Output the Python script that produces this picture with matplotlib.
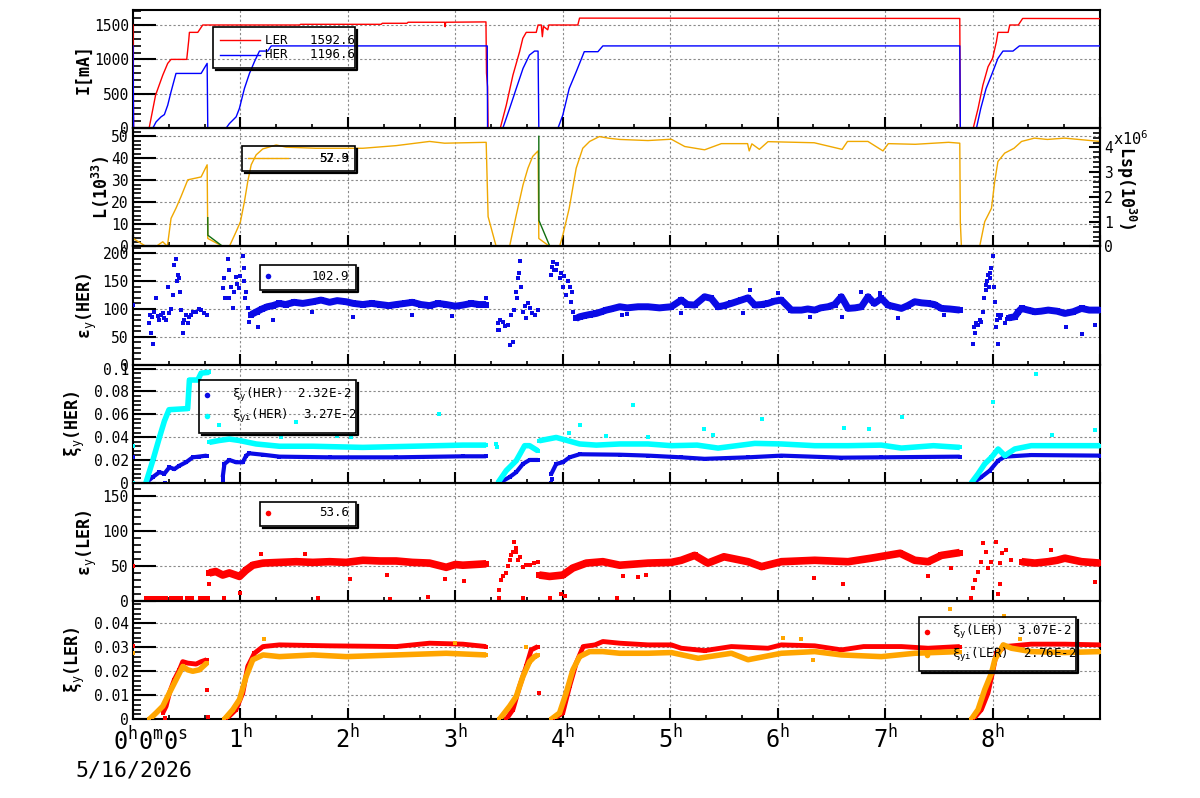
"""Beam current, luminosity and beam-beam parameter trends (6 stacked panels)"""
import matplotlib
matplotlib.use('Agg')
import matplotlib.pyplot as plt
from matplotlib.lines import Line2D
from matplotlib.patches import Rectangle
from matplotlib.ticker import MultipleLocator, FuncFormatter

plt.rcParams['font.family'] = ['DejaVu Sans Mono', 'DejaVu Sans']
plt.rcParams['mathtext.fontset'] = 'custom'
plt.rcParams['mathtext.rm'] = 'DejaVu Sans Mono'
plt.rcParams['mathtext.it'] = 'DejaVu Sans Mono'
plt.rcParams['mathtext.bf'] = 'DejaVu Sans Mono:bold'

# ---------------------------------------------------------------- data
# time in hours, value in panel units

# beam currents [mA]
ler_current = [(0.0, 1500), (0.005, 0), (0.15, 0), (0.21, 480), (0.277, 771), (0.323, 942),
               (0.354, 1000), (0.50, 1000), (0.519, 1281), (0.525, 1393), (0.603, 1393),
               (0.649, 1500), (1.55, 1500), (1.56, 1510), (2.31, 1510), (2.32, 1525),
               (2.55, 1525), (2.56, 1540), (2.90, 1540), (2.905, 1475), (2.91, 1540),
               (3.285, 1545), (3.29, 800), (3.30, 600), (3.305, 0), (3.418, 0), (3.474, 334),
               (3.536, 771), (3.598, 1112), (3.628, 1306), (3.66, 1393), (3.753, 1393),
               (3.77, 1500), (3.80, 1500), (3.81, 1330), (3.82, 1480), (3.86, 1430),
               (3.87, 1500), (4.14, 1500), (4.156, 1600), (7.695, 1595), (7.70, 0), (7.82, 0),
               (7.865, 286), (7.91, 626), (7.958, 893), (8.0, 1015), (8.036, 1258),
               (8.05, 1393), (8.145, 1393), (8.16, 1500), (8.24, 1500), (8.28, 1595), (9.0, 1593)]
her_current = [(0.0, 1196), (0.005, 0), (0.184, 0), (0.215, 92), (0.261, 165), (0.292, 198),
               (0.323, 334), (0.354, 529), (0.40, 796), (0.634, 796), (0.69, 942), (0.696, 0),
               (0.866, 0), (0.897, 67), (0.96, 165), (0.99, 286), (1.037, 577), (1.084, 796),
               (1.13, 966), (1.177, 1121), (1.254, 1121), (1.286, 1196), (3.297, 1196),
               (3.30, 0), (3.442, 0), (3.505, 286), (3.567, 577), (3.63, 869), (3.69, 1063),
               (3.737, 1121), (3.77, 1121), (3.777, 0), (3.955, 0), (4.0, 189), (4.06, 577),
               (4.125, 820), (4.20, 1112), (4.327, 1112), (4.373, 1196), (7.695, 1196),
               (7.70, 0), (7.85, 0), (7.89, 286), (7.94, 577), (7.99, 771), (8.05, 1015),
               (8.097, 1121), (8.19, 1121), (8.25, 1196), (9.0, 1196)]

# luminosity [1e33]
lumi = [(0.0, 45.3), (0.002, 3.6), (0.12, 0), (0.215, 0), (0.277, 2.1), (0.32, 0),
        (0.354, 12.7), (0.40, 17.3), (0.447, 22.6), (0.51, 30.2), (0.587, 31.0), (0.634, 31.5),
        (0.69, 37.0), (0.696, 3.6), (0.835, 0), (0.897, 0), (0.96, 6.7), (1.0, 11.2),
        (1.037, 20.3), (1.068, 29.4), (1.10, 37.0), (1.146, 41.5), (1.208, 44.2), (1.333, 46.0),
        (1.425, 45.0), (1.70, 44.5), (2.14, 44.5), (2.45, 45.7), (2.76, 47.6), (2.90, 46.8),
        (3.287, 47.2), (3.305, 13.5), (3.38, 0), (3.505, 0), (3.567, 14.2), (3.63, 27.9),
        (3.676, 35.5), (3.72, 40.8), (3.77, 43.3), (3.777, 3.6), (3.877, 0), (3.97, 0),
        (4.0, 5.0), (4.06, 17.3), (4.125, 35.5), (4.186, 44.5), (4.25, 47.6), (4.34, 49.8),
        (4.436, 49.0), (4.53, 48.5), (4.793, 48.0), (5.01, 48.6), (5.135, 45.3), (5.32, 43.8),
        (5.476, 46.6), (5.72, 46.6), (5.735, 43.3), (5.76, 46.5), (5.83, 44.0), (5.91, 47.5),
        (6.34, 47.0), (6.60, 44.0), (6.65, 47.6), (6.84, 47.6), (6.98, 43.3), (7.03, 46.6),
        (7.28, 46.3), (7.59, 47.2), (7.695, 46.8), (7.70, 11.2), (7.71, 0), (7.88, 0),
        (7.927, 11.2), (7.99, 17.3), (8.02, 29.4), (8.05, 38.5), (8.113, 42.3), (8.20, 44.5),
        (8.27, 47.6), (8.39, 49.1), (8.51, 48.5), (8.67, 49.1), (9.0, 47.6)]

# specific luminosity [x1e6, 1e30 units], only visible pieces
lsp = [[(0.696, 1.16), (0.697, 0.45), (0.835, 0.0)],
       [(3.777, 4.45), (3.778, 1.05), (3.88, 0.0)]]

# vertical emittance HER
eyh_scatter = [(0.0, 107), (0.153, 75), (0.16, 90), (0.168, 57), (0.175, 85), (0.19, 37),
               (0.20, 95), (0.215, 119), (0.23, 88), (0.245, 80), (0.261, 89), (0.277, 92),
               (0.29, 84), (0.308, 80), (0.323, 140), (0.339, 92), (0.35, 100), (0.37, 125),
               (0.385, 179), (0.40, 190), (0.41, 150), (0.417, 161), (0.432, 155), (0.44, 130),
               (0.448, 98), (0.463, 56), (0.47, 75), (0.479, 80), (0.49, 90), (0.509, 74),
               (0.52, 85), (0.541, 89), (0.56, 95), (0.587, 95), (0.61, 100), (0.634, 98),
               (0.66, 92), (0.686, 89),
               (0.835, 137), (0.851, 155), (0.86, 120), (0.882, 190), (0.89, 170), (0.897, 119),
               (0.91, 140), (0.929, 101), (0.94, 130), (0.959, 157), (0.97, 145), (0.991, 137),
               (1.0, 160), (1.022, 196), (1.03, 150), (1.037, 173), (1.045, 120), (1.053, 131),
               (1.068, 101), (1.084, 77),
               (1.161, 68), (1.30, 80), (1.67, 95), (2.05, 85), (2.60, 90), (2.97, 88), (3.287, 120),
               (3.396, 62), (3.40, 75), (3.411, 62), (3.42, 80), (3.442, 77), (3.46, 70),
               (3.489, 72), (3.505, 35), (3.52, 89), (3.536, 40), (3.545, 98), (3.56, 131),
               (3.57, 120), (3.582, 155), (3.59, 165), (3.604, 187), (3.61, 140), (3.629, 95),
               (3.645, 105), (3.66, 83), (3.675, 110), (3.691, 101), (3.71, 92), (3.737, 89),
               (3.768, 98),
               (3.893, 161), (3.90, 175), (3.908, 184), (3.92, 170), (3.939, 170), (3.95, 180),
               (3.97, 155), (3.985, 165), (4.001, 140), (4.015, 160), (4.032, 125), (4.05, 150),
               (4.063, 140), (4.079, 113), (4.09, 130), (4.094, 95), (4.11, 83),
               (4.55, 90), (4.60, 91), (5.10, 92), (5.68, 92), (5.74, 135), (6.0, 128),
               (6.30, 85), (6.60, 86), (6.78, 130), (6.95, 128), (7.12, 84), (7.55, 90),
               (7.819, 37), (7.825, 68), (7.834, 56), (7.845, 75), (7.865, 71), (7.88, 80),
               (7.896, 77), (7.912, 95), (7.92, 119), (7.935, 135), (7.943, 143), (7.95, 150),
               (7.958, 161), (7.965, 140), (7.974, 155), (7.98, 165), (7.99, 173), (8.005, 196),
               (8.01, 140), (8.021, 112), (8.036, 68), (8.045, 80), (8.052, 89), (8.067, 84),
               (8.08, 90), (8.114, 74), (8.13, 82),
               (8.05, 37), (8.68, 68), (8.83, 55), (8.95, 72)]
eyh_band = [[(1.10, 90), (1.15, 95), (1.20, 100), (1.25, 104), (1.30, 106), (1.363, 110),
             (1.42, 108), (1.50, 112), (1.58, 110), (1.674, 113), (1.75, 116), (1.83, 112),
             (1.90, 115), (1.984, 113), (2.05, 110), (2.139, 108), (2.22, 110), (2.30, 108),
             (2.38, 106), (2.45, 108), (2.53, 110), (2.60, 112), (2.68, 108), (2.76, 106),
             (2.84, 110), (2.915, 108), (3.0, 105), (3.07, 107), (3.15, 110), (3.22, 108),
             (3.287, 108)],
            [(4.125, 83), (4.157, 86), (4.20, 88), (4.25, 90), (4.312, 92), (4.36, 95),
             (4.405, 98), (4.45, 100), (4.53, 104), (4.60, 102), (4.70, 104), (4.793, 104),
             (4.90, 102), (5.01, 104), (5.103, 116), (5.16, 108), (5.227, 107), (5.32, 122),
             (5.382, 119), (5.445, 104), (5.50, 106), (5.569, 110), (5.662, 116), (5.724, 120),
             (5.787, 107), (5.85, 108), (5.91, 110), (5.97, 114), (6.035, 116), (6.128, 98),
             (6.221, 98), (6.28, 100), (6.345, 98), (6.40, 102), (6.469, 104), (6.53, 108),
             (6.593, 122), (6.655, 101), (6.72, 102), (6.779, 104), (6.841, 122), (6.90, 110),
             (6.965, 119), (7.027, 107), (7.09, 104), (7.152, 101), (7.21, 106), (7.276, 113),
             (7.34, 111), (7.40, 110), (7.46, 108), (7.524, 101), (7.60, 100), (7.695, 98)],
            [(8.15, 84), (8.207, 86), (8.24, 95), (8.27, 101), (8.33, 98), (8.393, 95),
             (8.45, 96), (8.518, 98), (8.60, 96), (8.673, 92), (8.75, 95), (8.828, 101),
             (8.90, 98), (9.0, 98)]]

# beam-beam parameter HER
xiy_her = [[(0.12, 0), (0.184, 0.005), (0.246, 0.0093), (0.292, 0.008), (0.339, 0.0136),
            (0.385, 0.012), (0.432, 0.015), (0.494, 0.018), (0.556, 0.0223), (0.618, 0.023),
            (0.686, 0.0238)],
           [(0.835, 0.005), (0.851, 0.0165), (0.897, 0.020), (0.959, 0.018), (1.022, 0.018),
            (1.053, 0.0238), (1.084, 0.0258), (1.21, 0.0246), (1.363, 0.0229), (1.83, 0.0223),
            (2.45, 0.0223), (3.07, 0.0232), (3.287, 0.0232)],
           [(3.411, 0), (3.505, 0.005), (3.567, 0.0093), (3.629, 0.0165), (3.691, 0.020),
            (3.768, 0.020)],
           [(3.893, 0.0078), (3.939, 0.0165), (4.0, 0.018), (4.063, 0.0223), (4.157, 0.025),
            (4.53, 0.0246), (4.793, 0.0238), (5.103, 0.0223), (5.32, 0.021), (5.724, 0.0223),
            (6.035, 0.0238), (6.593, 0.0220), (6.965, 0.0223), (7.695, 0.0229)],
           [(7.819, 0), (7.896, 0.005), (7.974, 0.0107), (8.052, 0.0194), (8.114, 0.0229),
            (8.36, 0.0243), (9.0, 0.0238)]]
xiy_her_scatter = [(0.0, 0.0223), (0.30, 0.0), (0.835, 0.0), (0.84, 0.003), (3.893, 0.0),
                   (3.90, 0.003)]
xiyi_her = [[(0.12, 0), (0.184, 0.0194), (0.246, 0.0397), (0.292, 0.054), (0.335, 0.064),
             (0.509, 0.065), (0.525, 0.090), (0.603, 0.090), (0.634, 0.096), (0.71, 0.0968)],
            [(0.71, 0.0354), (0.80, 0.037), (0.897, 0.0383), (0.991, 0.037), (1.146, 0.034),
             (1.363, 0.032), (1.674, 0.032), (2.139, 0.031), (2.60, 0.032), (3.07, 0.033),
             (3.287, 0.033)],
            [(3.396, 0), (3.474, 0.0107), (3.567, 0.0194), (3.645, 0.0325), (3.691, 0.0325),
             (3.768, 0.028)],
            [(3.78, 0.0368), (3.939, 0.0397), (4.157, 0.034), (4.312, 0.033), (4.53, 0.034),
             (4.793, 0.034), (5.01, 0.0325), (5.25, 0.033), (5.445, 0.0304), (5.787, 0.0345),
             (6.035, 0.034), (6.345, 0.0325), (6.655, 0.0325), (6.965, 0.033), (7.152, 0.0304),
             (7.45, 0.0325), (7.695, 0.031)],
            [(7.803, 0), (7.865, 0.0078), (7.927, 0.0165), (7.99, 0.0223), (8.052, 0.0296),
             (8.114, 0.0238), (8.207, 0.0296), (8.36, 0.0325), (8.673, 0.0325), (9.0, 0.0325)]]
xiyi_her_scatter = [(0.0, 0.0325), (0.0, 0.0), (0.80, 0.051), (1.52, 0.053), (1.90, 0.041),
                    (2.03, 0.040), (2.85, 0.060), (1.38, 0.040), (3.38, 0.034), (3.385, 0.031),
                    (4.06, 0.044), (4.16, 0.051), (4.40, 0.041), (4.65, 0.068), (4.79, 0.040),
                    (5.31, 0.0475), (5.40, 0.042), (5.85, 0.056), (6.62, 0.048), (6.85, 0.0475),
                    (7.16, 0.058), (8.005, 0.071), (8.40, 0.0954), (8.55, 0.042), (8.95, 0.046)]

# vertical emittance LER
eyl_scatter = [(0.12, 4), (0.15, 4), (0.17, 4), (0.19, 4), (0.21, 4), (0.23, 4), (0.25, 4),
               (0.29, 4), (0.31, 4), (0.35, 4), (0.37, 4), (0.40, 4), (0.43, 4), (0.45, 4),
               (0.50, 4), (0.52, 4), (0.55, 4), (0.62, 4), (0.64, 4), (0.66, 4), (0.68, 4),
               (0.70, 4),
               (0.0, 50), (0.71, 24), (0.85, 4), (1.0, 12), (1.19, 67), (1.60, 67), (1.72, 4),
               (2.02, 31), (2.36, 37), (2.39, 3), (2.75, 6), (2.90, 31), (3.08, 28),
               (3.411, 16), (3.425, 30), (3.442, 35), (3.474, 40), (3.49, 50), (3.505, 58),
               (3.52, 65), (3.536, 70), (3.55, 84), (3.56, 70), (3.567, 75), (3.582, 58),
               (3.598, 62), (3.629, 49), (3.66, 52), (3.691, 51), (3.73, 54), (3.768, 56),
               (3.411, 4), (3.629, 4),
               (3.88, 4), (3.98, 10), (4.02, 7), (4.50, 4), (4.56, 36), (4.70, 34), (4.77, 37),
               (6.34, 33), (6.61, 24), (7.40, 36), (7.61, 47),
               (7.803, 4), (7.819, 19), (7.84, 30), (7.865, 42), (7.896, 56), (7.912, 82),
               (7.935, 70), (7.958, 47), (7.99, 56), (8.036, 84), (8.067, 54), (8.09, 68),
               (8.128, 72), (8.176, 58),
               (8.05, 10), (8.07, 24), (8.54, 73), (8.95, 27)]
eyl_band = [[(0.71, 40), (0.77, 42), (0.835, 37), (0.897, 40), (0.991, 35), (1.053, 44),
             (1.115, 51), (1.21, 54), (1.363, 55), (1.52, 56), (1.674, 55), (1.83, 56),
             (1.984, 55), (2.14, 58), (2.30, 57), (2.45, 57), (2.60, 55), (2.76, 54),
             (2.915, 48), (3.0, 52), (3.07, 51), (3.18, 52), (3.287, 53)],
            [(3.78, 37), (3.83, 36), (3.877, 35), (3.94, 36), (4.0, 37), (4.094, 47),
             (4.219, 54), (4.373, 56), (4.53, 51), (4.793, 54), (5.01, 55), (5.103, 58),
             (5.227, 65), (5.35, 54), (5.50, 63), (5.724, 56), (5.85, 49), (6.035, 56),
             (6.345, 58), (6.655, 56), (6.87, 61), (7.14, 68), (7.276, 58), (7.40, 56),
             (7.524, 65), (7.695, 69)],
            [(8.27, 56), (8.393, 54), (8.518, 56), (8.60, 58), (8.673, 61), (8.828, 56),
             (9.0, 54)]]

# beam-beam parameter LER
xiy_ler = [[(0.277, 0.0026), (0.308, 0.0054), (0.339, 0.011), (0.385, 0.0165), (0.432, 0.0206),
            (0.463, 0.024), (0.509, 0.0234), (0.587, 0.023), (0.634, 0.024), (0.686, 0.0248)],
           [(0.866, 0), (0.959, 0.004), (1.022, 0.011), (1.068, 0.022), (1.13, 0.0275),
            (1.21, 0.0303), (1.363, 0.031), (1.83, 0.0306), (2.45, 0.0303), (2.76, 0.0317),
            (3.07, 0.0313), (3.287, 0.0303)],
           [(3.474, 0), (3.536, 0.004), (3.598, 0.0137), (3.66, 0.022), (3.706, 0.0289),
            (3.768, 0.0303)],
           [(3.908, 0), (4.0, 0.0026), (4.063, 0.0137), (4.125, 0.0234), (4.19, 0.0303),
            (4.30, 0.031), (4.373, 0.0324), (4.53, 0.0317), (4.793, 0.031), (5.01, 0.031),
            (5.103, 0.0296), (5.32, 0.0286), (5.569, 0.0303), (5.91, 0.0296), (6.035, 0.031),
            (6.345, 0.0306), (6.593, 0.0289), (6.80, 0.0303), (7.152, 0.0303), (7.40, 0.0296),
            (7.695, 0.0303)],
           [(7.819, 0), (7.896, 0.004), (7.958, 0.011), (8.005, 0.0206), (8.036, 0.0275),
            (8.114, 0.0303), (8.36, 0.0313), (8.673, 0.0313), (9.0, 0.031)]]
xiy_ler_scatter = [(0.0, 0.0307), (0.69, 0.0123), (0.695, 0.001), (0.30, 0.0005), (3.78, 0.011)]
xiyi_ler = [[(0.153, 0), (0.215, 0.0026), (0.277, 0.0054), (0.339, 0.011), (0.401, 0.0165),
             (0.463, 0.022), (0.509, 0.0206), (0.556, 0.020), (0.618, 0.0206), (0.686, 0.0234)],
            [(0.851, 0), (0.929, 0.004), (0.991, 0.0082), (1.053, 0.0178), (1.115, 0.0248),
             (1.21, 0.0268), (1.363, 0.0261), (1.674, 0.0268), (1.984, 0.0261), (2.45, 0.0268),
             (2.915, 0.0275), (3.287, 0.0268)],
            [(3.411, 0), (3.505, 0.0054), (3.567, 0.0095), (3.629, 0.0178), (3.691, 0.024),
             (3.737, 0.0261), (3.768, 0.0268)],
            [(3.893, 0), (3.97, 0.0026), (4.032, 0.011), (4.094, 0.0206), (4.157, 0.0261),
             (4.25, 0.0282), (4.373, 0.0282), (4.53, 0.0275), (4.793, 0.0275), (5.01, 0.0278),
             (5.26, 0.0254), (5.569, 0.0275), (5.724, 0.0248), (6.035, 0.0275), (6.345, 0.0282),
             (6.593, 0.0268), (6.965, 0.0261), (7.276, 0.0275), (7.695, 0.0282)],
            [(7.803, 0), (7.865, 0.004), (7.927, 0.0123), (7.99, 0.0192), (8.021, 0.0248),
             (8.10, 0.031), (8.176, 0.0296), (8.36, 0.0282), (8.673, 0.0278), (9.0, 0.0282)]]
xiyi_ler_scatter = [(0.0, 0.0275), (1.22, 0.0333), (3.0, 0.0319), (3.66, 0.0303), (6.05, 0.0337),
                    (6.22, 0.0333), (6.33, 0.0248), (7.60, 0.0459), (8.11, 0.043), (8.26, 0.0334)]

hour_labels = ['', '1$^h$', '2$^h$', '3$^h$', '4$^h$', '5$^h$', '6$^h$', '7$^h$', '8$^h$']

# ---------------------------------------------------------------- helpers
W, H = 1200, 798
fig = plt.figure(figsize=(W / 100, H / 100), dpi=100)


def fx(x):
    return x / W


def fy(y):
    return 1 - y / H


def unzip(points):
    t, v = zip(*points)
    return list(t), list(v)


def make_panel(top, ymax, major, minor):
    """one stacked pad, ROOT-like frame and ticks"""
    ax = fig.add_axes([fx(133), fy(top + 118.2), 967 / W, 118.2 / H])
    ax.set_xlim(0, 9)
    ax.set_ylim(0, ymax)
    ax.xaxis.set_major_locator(MultipleLocator(1))
    ax.xaxis.set_minor_locator(MultipleLocator(1 / 3))
    ax.yaxis.set_major_locator(MultipleLocator(major))
    ax.yaxis.set_minor_locator(MultipleLocator(minor))
    ax.yaxis.set_major_formatter(FuncFormatter(lambda v, p: f'{v:g}'))
    ax.tick_params(axis='y', which='major', direction='in', length=16.5, width=1.5,
                   labelsize=10.5, pad=3, right=False)
    ax.tick_params(axis='y', which='minor', direction='in', length=5.8, width=1.2, right=False)
    ax.tick_params(axis='x', which='major', direction='in', length=8, width=1.5,
                   top=False, labelbottom=False)
    ax.tick_params(axis='x', which='minor', direction='in', length=3, width=1.2, top=False)
    ax.grid(True, which='major', color='#8a8a8a', ls=(0, (2, 2)), lw=0.8)
    ax.set_axisbelow(True)
    for s in ax.spines.values():
        s.set_linewidth(1.5)
    ax.patch.set_alpha(0)
    return ax


def draw_line(ax, points, color, lw=1.0):
    t, v = unzip(points)
    ax.plot(t, v, color=color, lw=lw, zorder=3)


def draw_band(ax, segments, color, lw, ms):
    for seg in segments:
        t, v = unzip(seg)
        ax.plot(t, v, color=color, lw=lw, marker='s', ms=ms, mew=0, zorder=3,
                solid_capstyle='butt')


def draw_dots(ax, points, color, ms):
    t, v = unzip(points)
    ax.plot(t, v, ls='none', marker='s', ms=ms, mew=0, color=color, zorder=3)


def legend_box(x0, y0, x1, y1):
    """transparent TLegend with a black drop shadow"""
    fig.add_artist(Rectangle((fx(x0), fy(y1)), fx(x1 - x0), (y1 - y0) / H, fill=False,
                             ec='black', lw=1.2, transform=fig.transFigure, zorder=10))
    fig.add_artist(Line2D([fx(x0 + 3), fx(x1 + 2), fx(x1 + 2)], [fy(y1 + 1.5), fy(y1 + 1.5), fy(y0 + 3)],
                          color='black', lw=1.6, transform=fig.transFigure, zorder=10))


def legend_line(x, y, color):
    fig.add_artist(Line2D([fx(x), fx(x + 40)], [fy(y), fy(y)], color=color, lw=1.0,
                          transform=fig.transFigure, zorder=10))


def legend_dot(x, y, color):
    fig.add_artist(Line2D([fx(x)], [fy(y)], ls='none', marker='o', ms=4, mew=0, color=color,
                          transform=fig.transFigure, zorder=10))


def legend_text(x, y, s, ha='left'):
    fig.text(fx(x), fy(y), s, ha=ha, va='center', fontsize=9, zorder=11)


def ylabel(x, y, s, rot=90):
    fig.text(fx(x), fy(y), s, rotation=rot, ha='center', va='center', fontsize=12,
             fontweight='bold')


# ---------------------------------------------------------------- panels
tops = [10, 128.2, 246.4, 364.6, 482.8, 601]

# 1: currents
ax1 = make_panel(tops[0], 1718, 500, 100)
draw_line(ax1, ler_current, '#ff0000')
draw_line(ax1, her_current, '#0000ff')
ylabel(84, 69, 'I[mA]')
legend_box(213, 27, 355, 68)
legend_line(220, 40, '#ff0000')
legend_text(265, 40, 'LER   1592.6')
legend_line(220, 55, '#0000ff')
legend_text(265, 55, 'HER   1196.6')

# 2: luminosity + specific luminosity on right axis
ax2 = make_panel(tops[1], 53.6, 10, 2)
draw_line(ax2, lumi, '#f0a800')
ax2r = ax2.twinx()
ax2r.set_ylim(0, 4.78)
ax2r.yaxis.set_major_locator(MultipleLocator(1))
ax2r.yaxis.set_minor_locator(MultipleLocator(0.2))
ax2r.yaxis.set_major_formatter(FuncFormatter(lambda v, p: f'{v:g}'))
ax2r.tick_params(axis='y', which='major', direction='in', length=8, width=1.5, labelsize=10.5, pad=3)
ax2r.tick_params(axis='y', which='minor', direction='in', length=5, width=1.2)
for s in ax2r.spines.values():
    s.set_linewidth(1.5)
for seg in lsp:
    draw_line(ax2r, seg, '#0f6e0f')
ylabel(101, 187, 'L(10$^{\\mathbf{33}}$)')
ylabel(1126, 188, 'Lsp(10$^{\\mathbf{30}}$)', rot=270)
fig.text(fx(1113), fy(145), 'x10$^6$', ha='left', va='baseline', fontsize=11)
legend_box(242, 146, 355, 171)
legend_line(248, 158, '#f0a800')
legend_text(349, 158, '57.9', ha='right')
legend_text(349, 158, '52.3', ha='right')

# 3: emittance HER
ax3 = make_panel(tops[2], 212.5, 50, 10)
draw_band(ax3, eyh_band, '#0a0ae6', 5.0, 4.5)
draw_dots(ax3, eyh_scatter, '#0a0ae6', 3.5)
ylabel(87, 306, 'ε$_y$(HER)')
legend_box(260, 265, 356, 290)
legend_dot(268, 276, '#0a0ae6')
legend_text(349, 276, '102.9', ha='right')

# 4: beam-beam HER
ax4 = make_panel(tops[3], 0.1035, 0.02, 0.004)
draw_band(ax4, xiy_her, '#0a0ae6', 3.0, 3.2)
draw_dots(ax4, xiy_her_scatter, '#0a0ae6', 3)
draw_band(ax4, xiyi_her, '#00ffff', 4.0, 3.5)
draw_dots(ax4, xiyi_her_scatter, '#00ffff', 3)
ylabel(75, 424, 'ξ$_y$(HER)')
legend_box(199, 380, 356, 433)
legend_dot(207, 395, '#0a0ae6')
legend_text(232, 395, 'ξ$_y$(HER)  2.32E-2')
legend_dot(207, 416, '#00ffff')
legend_text(232, 416, 'ξ$_{yi}$(HER)  3.27E-2')

# 5: emittance LER
ax5 = make_panel(tops[4], 168.4, 50, 10)
draw_band(ax5, eyl_band, '#ff0000', 5.5, 4.5)
draw_dots(ax5, eyl_scatter, '#ff0000', 3.5)
ylabel(87, 543, 'ε$_y$(LER)')
legend_box(260, 502, 356, 526)
legend_dot(268, 513, '#ff0000')
legend_text(349, 513, '53.6', ha='right')

# 6: beam-beam LER, with the time axis
ax6 = make_panel(tops[5], 0.0493, 0.01, 0.002)
draw_band(ax6, xiy_ler, '#ff0000', 3.5, 3.5)
draw_dots(ax6, xiy_ler_scatter, '#ff0000', 3)
draw_band(ax6, xiyi_ler, '#ffa500', 4.0, 3.5)
draw_dots(ax6, xiyi_ler_scatter, '#ffa500', 3)
ylabel(75, 660, 'ξ$_y$(LER)')
legend_box(919, 617, 1076, 671)
legend_dot(927, 632, '#ff0000')
legend_text(952, 632, 'ξ$_y$(LER)  3.07E-2')
legend_dot(927, 655, '#ffa500')
legend_text(952, 655, 'ξ$_{yi}$(LER)  2.76E-2')

ax6.tick_params(axis='x', which='major', labelbottom=True, labelsize=17, pad=4)
ax6.set_xticks(range(len(hour_labels)))
ax6.set_xticklabels(hour_labels)
fig.text(fx(113), fy(750), '0$^h$0$^m$0$^s$', ha='left', va='baseline', fontsize=17)
fig.text(fx(75), fy(776), '5/16/2026', ha='left', va='baseline', fontsize=15.5)

fig.savefig('out.png', dpi=100)
plt.close(fig)
